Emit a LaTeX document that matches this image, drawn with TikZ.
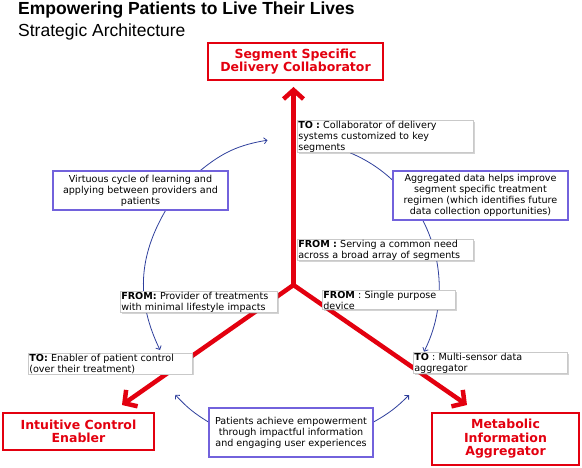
\documentclass[tikz,border=0pt]{standalone}
\usepackage{fontspec}
\setmainfont{DejaVu Sans}
\newfontfamily\headfont{Liberation Sans}
\usetikzlibrary{arrows.meta,shadows,backgrounds}
\definecolor{goalred}{HTML}{E3000F}
\definecolor{looppurple}{HTML}{7262DC}
\definecolor{loopblue}{HTML}{2E3F9C}
\definecolor{notegray}{HTML}{C9C9C9}

\begin{document}
\begin{tikzpicture}[
  x=1pt,y=1pt,
  goal/.style={draw=goalred,line width=1.8pt,text=goalred,font=\fontsize{12.5}{13.5}\selectfont\bfseries,align=center,inner sep=0pt},
  tofrom/.style={draw=notegray,fill=white,line width=.6pt,drop shadow={shadow xshift=1.5pt,shadow yshift=-1.5pt,opacity=.35},anchor=north west,align=left,font=\fontsize{9.6}{11}\selectfont,inner xsep=1pt,inner ysep=.5pt},
  loopnote/.style={draw=looppurple,fill=white,line width=1.2pt,align=center,font=\fontsize{9.6}{11}\selectfont,inner sep=0pt},
  bigflow/.style={goalred,line width=4.5pt,-{Straight Barb[length=9pt,width=20pt]}},
  loopflow/.style={loopblue,line width=.8pt,-{Straight Barb[length=3pt,width=6pt]}}
]
\useasboundingbox (0,0) rectangle (582,-468);
% titles
\node[anchor=base west,inner sep=0pt,font=\headfont\bfseries\fontsize{17.5}{20}\selectfont] (title) at (18,-15) {Empowering Patients to Live Their Lives};
\node[anchor=base west,inner sep=0pt,font=\headfont\fontsize{17.5}{20}\selectfont] (subtitle) at (18,-37) {Strategic Architecture};
% the three goals
\node[goal,minimum width=175,minimum height=37] (delivery) at (295.5,-61.5) {Segment Specific\\Delivery Collaborator};
\node[goal,minimum width=151,minimum height=37] (control) at (78.5,-431.5) {Intuitive Control\\Enabler};
\node[goal,minimum width=147,minimum height=52] (metabolic) at (505.5,-439) {Metabolic\\Information\\Aggregator};
\coordinate (hub) at (293.5,-285);
\coordinate (tipD) at (293.5,-87);
\coordinate (tipC) at (122,-405);
\coordinate (tipM) at (467,-405);
% from / to notes
\node[tofrom,text width=174] (toD) at (297,-120) {\textbf{TO :} Collaborator of delivery\\systems customized to key\\segments};
\node[tofrom,text width=174] (fromD) at (297,-239) {\textbf{FROM :} Serving a common need\\across a broad array of segments};
\node[tofrom,text width=155] (fromC) at (120,-291) {\textbf{FROM:} Provider of treatments\\with minimal lifestyle impacts};
\node[tofrom,text width=131] (fromM) at (322,-290) {\textbf{FROM} : Single purpose\\device};
\node[tofrom,text width=162] (toC) at (28,-353) {\textbf{TO:} Enabler of patient control\\(over their treatment)};
\node[tofrom,text width=152] (toM) at (413,-352) {\textbf{TO} : Multi-sensor data\\aggregator};
% learning cycle notes
\node[loopnote,minimum width=175,minimum height=39] (virtuous) at (140.5,-190.5) {Virtuous cycle of learning and\\applying between providers and\\patients};
\node[loopnote,minimum width=175,minimum height=49] (aggregated) at (480.5,-195.5) {Aggregated data helps improve\\segment specific treatment\\regimen (which identifies future\\data collection opportunities)};
\node[loopnote,minimum width=164,minimum height=49] (patients) at (291,-432.5) {Patients achieve empowerment\\through impactful information\\and engaging user experiences};
\coordinate (cycD) at (267.5,-140.2);
\coordinate (cycC) at (160,-350);
\coordinate (cycM) at (424,-351.7);
\coordinate (cycPC) at (175.3,-394.8);
\coordinate (cycPM) at (409,-395);
\begin{scope}[on background layer]
\draw[bigflow] (hub) -- (tipD);
\draw[bigflow] (hub) -- (tipC);
\draw[bigflow] (hub) -- (tipM);
\fill[goalred] (hub) circle (2.25pt);
\draw[loopflow] ([xshift=60pt]virtuous.north) to[bend left=15] (cycD);
\draw[loopflow] ([xshift=25pt]virtuous.south) to[bend right=28] (cycC);
\draw[loopflow] ([xshift=-35pt]toD.south) to[bend left=47] (cycM);
\draw[loopflow] ([yshift=10.5pt]patients.west) to[bend left=8] (cycPC);
\draw[loopflow] ([yshift=10.5pt]patients.east) to[bend right=8] (cycPM);
\end{scope}
\end{tikzpicture}
\end{document}
